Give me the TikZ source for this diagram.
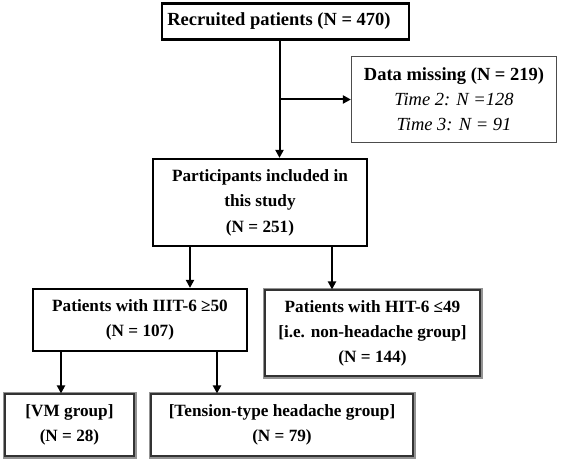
\documentclass[tikz,border=0pt]{standalone}
\usepackage{fontspec}
\setmainfont{Liberation Serif}
\usetikzlibrary{arrows.meta, positioning, calc}

\begin{document}
\begin{tikzpicture}[
        x=1pt, y=-1pt,
        main_node/.style={rectangle, draw=black, line width=2.2pt, fill=white, align=center, inner sep=0pt, font=\fontsize{17.2}{25.5}\selectfont\bfseries},
        missing_node/.style={rectangle, draw=black!70, line width=1.2pt, fill=white, align=center, inner sep=0pt, font=\fontsize{18.5}{25}\selectfont},
        group_node/.style={rectangle, draw=black!80, line width=1.1pt, fill=white, align=center, inner sep=0pt, font=\fontsize{17.2}{25}\selectfont\bfseries, preaction={draw=gray!85, line width=5pt}, preaction={draw=white, line width=2.8pt}},
        arrow/.style={-{Triangle[length=8pt, width=8pt]}, line width=2pt}
    ]
    \useasboundingbox (0,0) rectangle (561,462);

    % Enrolment
    \node[main_node, minimum width=247pt, minimum height=36pt, font=\fontsize{18.5}{26}\selectfont\bfseries] (recruit) at (285.5,21.5) {Recruited patients (N = 470)\hspace*{13pt}};
    \node[missing_node, minimum width=205pt, minimum height=86pt] (missing) at (454,99.5) {{\bfseries Data missing (N = 219)}\\\textit{Time 2: N =128}\\\textit{Time 3: N = 91}};
    \node[main_node, minimum width=214pt, minimum height=87pt] (included) at (260,202.5) {Participants included in\\this study\\(N = 251)};

    % HIT-6 split
    \node[main_node, minimum width=214pt, minimum height=62pt] (high_hit) at (140,320) {Patients with IIIT-6 ≥50\\(N = 107)};
    \node[group_node, minimum width=215pt, minimum height=86pt] (low_hit) at (372.5,333) {Patients with HIT-6 ≤49\\{[}i.e. non-headache group{]}\\(N = 144)};

    % Headache groups
    \node[group_node, minimum width=129pt, minimum height=62pt] (vm_group) at (69.5,425) {{[}VM group{]}\\(N = 28)};
    \node[group_node, minimum width=262pt, minimum height=62pt] (tth_group) at (282,425) {{[}Tension-type headache group{]}\\(N = 79)};

    % Connections
    \coordinate (split) at ([xshift=-6pt]recruit.south |- missing.west);
    \draw[arrow] ([xshift=-6pt]recruit.south) -- ([xshift=-6pt]recruit.south |- included.north);
    \draw[arrow] (split) -- (missing.west);

    \draw[arrow] ([xshift=-70pt]included.south) -- ([xshift=-70pt]included.south |- high_hit.north);
    \draw[arrow] ([xshift=72pt]included.south) -- ([xshift=72pt]included.south |- low_hit.north);

    \draw[arrow] ([xshift=-79pt]high_hit.south) -- ([xshift=-79pt]high_hit.south |- vm_group.north);
    \draw[arrow] ([xshift=77pt]high_hit.south) -- ([xshift=77pt]high_hit.south |- tth_group.north);

\end{tikzpicture}
\end{document}
